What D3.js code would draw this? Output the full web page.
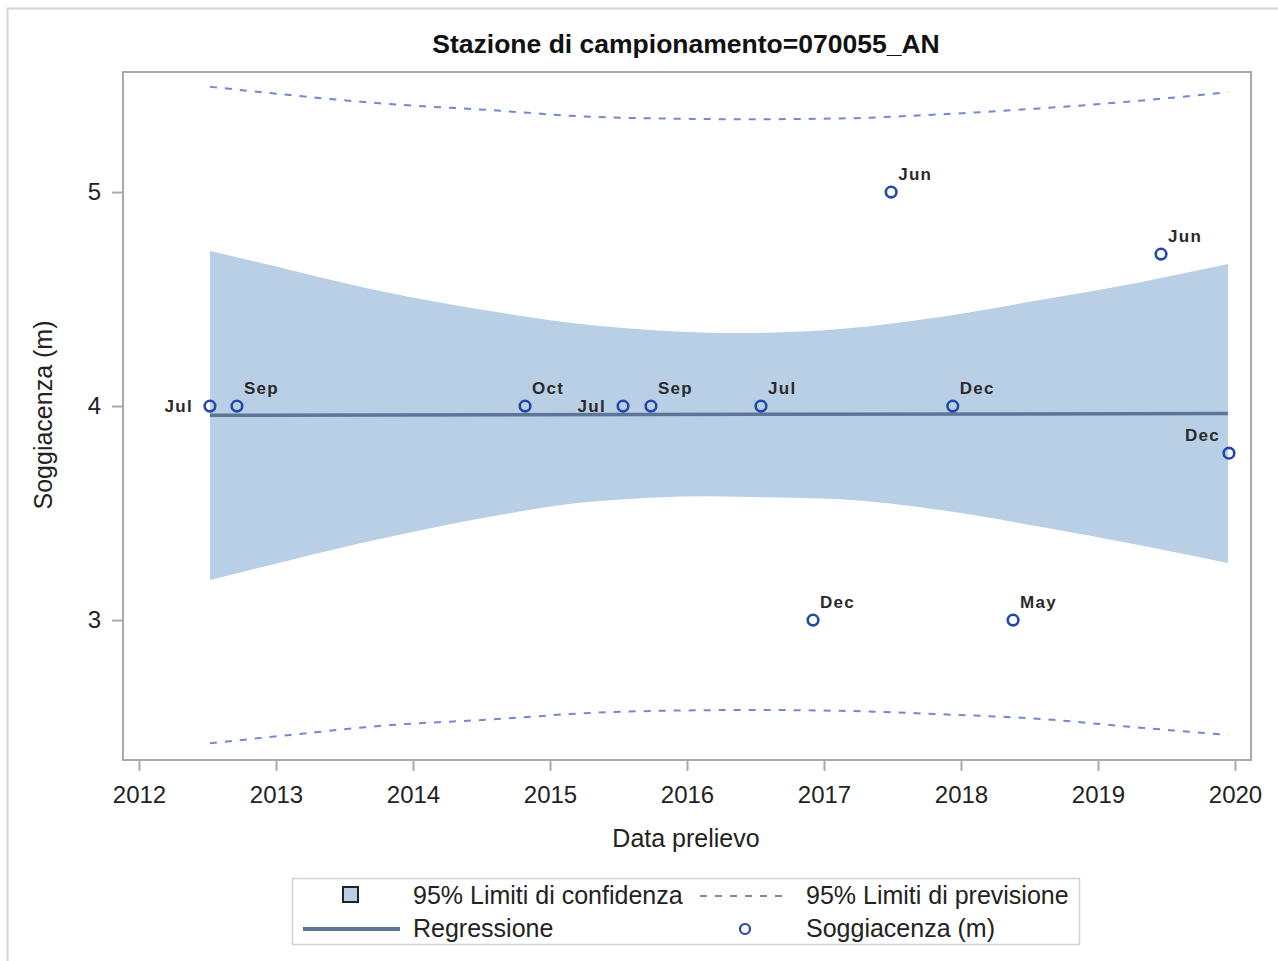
<!DOCTYPE html>
<html>
<head>
<meta charset="utf-8">
<script src="https://cdn.jsdelivr.net/npm/d3@7"></script>
<style>
  html, body { margin: 0; padding: 0; background: #fff; }
  svg text { font-family: "Liberation Sans", Arial, sans-serif; }
</style>
</head>
<body>
<svg id="chart" width="1278" height="961"></svg>
<script>
// Sampling dates (decimal years), depth to water table and month labels
const sampleYears  = [2012.518, 2012.715, 2014.818, 2015.533, 2015.737, 2016.540, 2016.920, 2017.490, 2017.940, 2018.380, 2019.460, 2019.956];
const depthValues  = [4.00, 4.00, 4.00, 4.00, 4.00, 4.00, 3.00, 5.00, 4.00, 3.00, 4.71, 3.78];
const monthLabels  = ["Jul", "Sep", "Oct", "Jul", "Sep", "Jul", "Dec", "Jun", "Dec", "May", "Jun", "Dec"];

// Fitted regression line
const fitYears  = [2012.518, 2019.949];
const fitValues = [3.957, 3.965];

// 95% confidence / prediction limits along the fitted range
const bandYears = [2012.518, 2013.102, 2013.832, 2014.562, 2015.292, 2016.168, 2016.387, 2017.117, 2017.847, 2018.577, 2019.307, 2019.949];
const clmUpper  = [4.726, 4.636, 4.528, 4.444, 4.379, 4.343, 4.341, 4.360, 4.416, 4.495, 4.579, 4.664];
const clmLower  = [3.187, 3.280, 3.389, 3.483, 3.553, 3.579, 3.576, 3.564, 3.514, 3.436, 3.350, 3.266];
const plmUpper  = [5.492, 5.453, 5.411, 5.383, 5.352, 5.341, 5.340, 5.344, 5.363, 5.391, 5.427, 5.467];
const plmLower  = [2.424, 2.463, 2.509, 2.535, 2.566, 2.579, 2.580, 2.576, 2.560, 2.538, 2.497, 2.463];

// Axis ticks
const xTicks = [2012, 2013, 2014, 2015, 2016, 2017, 2018, 2019, 2020];
const yTicks = [3, 4, 5];

const titleText  = "Stazione di campionamento=070055_AN";
const xAxisTitle = "Data prelievo";
const yAxisTitle = "Soggiacenza (m)";
const legendLabels = ["95% Limiti di confidenza", "95% Limiti di previsione", "Regressione", "Soggiacenza (m)"];

// Label placement for points whose label would collide with neighbours
const labelSide = { 0: "left", 3: "left", 11: "upperLeft" };

const COLORS = {
  band: "#b9cfe6",
  fit: "#5f7499",
  points: "#2348a8",
  plm: "#7487cf",
  frame: "#a6aaae",
  text: "#222"
};

const svg = d3.select("#chart");

// Outer frame of the graph
svg.append("rect")
  .attr("x", 7.5).attr("y", 8.5).attr("width", 1290).attr("height", 980)
  .attr("fill", "none").attr("stroke", "#d6d6d6").attr("stroke-width", 2);

const plot = { left: 123, right: 1251, top: 72, bottom: 760 };

const x = d3.scaleLinear().domain([2012, 2020]).range([139, 1235]);
const y = d3.scaleLinear().domain([2.346, 5.561]).range([plot.bottom, plot.top]);

// Confidence band
const band = bandYears.map((yr, i) => ({ yr, lo: clmLower[i], hi: clmUpper[i] }));
svg.append("path")
  .datum(band)
  .attr("fill", COLORS.band)
  .attr("d", d3.area().curve(d3.curveMonotoneX)
    .x(d => x(d.yr)).y0(d => y(d.lo)).y1(d => y(d.hi)));

// Prediction limits
[plmUpper, plmLower].forEach(vals => {
  svg.append("path")
    .datum(bandYears.map((yr, i) => ({ yr, v: vals[i] })))
    .attr("fill", "none")
    .attr("stroke", COLORS.plm)
    .attr("stroke-width", 2)
    .attr("stroke-dasharray", "7,8")
    .attr("d", d3.line().curve(d3.curveMonotoneX).x(d => x(d.yr)).y(d => y(d.v)));
});

// Regression line
svg.append("path")
  .datum(fitYears.map((yr, i) => ({ yr, v: fitValues[i] })))
  .attr("fill", "none")
  .attr("stroke", COLORS.fit)
  .attr("stroke-width", 3.5)
  .attr("d", d3.line().x(d => x(d.yr)).y(d => y(d.v)));

// Observations
const pts = sampleYears.map((yr, i) => ({ yr, v: depthValues[i], lab: monthLabels[i], side: labelSide[i] || "upperRight" }));
svg.append("g").selectAll("circle").data(pts).join("circle")
  .attr("cx", d => x(d.yr)).attr("cy", d => y(d.v)).attr("r", 5.3)
  .attr("fill", "none").attr("stroke", COLORS.points).attr("stroke-width", 2.6);

svg.append("g").selectAll("text").data(pts).join("text")
  .attr("x", d => x(d.yr) + (d.side === "upperRight" ? 7 : d.side === "left" ? -17 : -9))
  .attr("y", d => y(d.v) + (d.side === "left" ? 6 : -12))
  .attr("text-anchor", d => d.side === "upperRight" ? "start" : "end")
  .attr("font-size", 17).attr("font-weight", "bold").attr("letter-spacing", 1.3)
  .attr("fill", "#2a2a2a")
  .text(d => d.lab);

// Plot frame
svg.append("rect")
  .attr("x", plot.left).attr("y", plot.top)
  .attr("width", plot.right - plot.left).attr("height", plot.bottom - plot.top)
  .attr("fill", "none").attr("stroke", COLORS.frame).attr("stroke-width", 2);

// X axis
const xAxis = svg.append("g")
  .attr("transform", `translate(0,${plot.bottom})`)
  .call(d3.axisBottom(x).tickValues(xTicks).tickFormat(d3.format("d")).tickSize(11).tickPadding(15));
xAxis.select(".domain").remove();
xAxis.selectAll("line").attr("stroke", COLORS.frame).attr("stroke-width", 2);
xAxis.selectAll("text").attr("font-size", 24).attr("fill", COLORS.text)
  .attr("font-family", "Liberation Sans, Arial, sans-serif");

// Y axis
const yAxis = svg.append("g")
  .attr("transform", `translate(${plot.left},0)`)
  .call(d3.axisLeft(y).tickValues(yTicks).tickFormat(d3.format("d")).tickSize(11).tickPadding(11));
yAxis.select(".domain").remove();
yAxis.selectAll("line").attr("stroke", COLORS.frame).attr("stroke-width", 2);
yAxis.selectAll("text").attr("font-size", 24).attr("fill", COLORS.text)
  .attr("font-family", "Liberation Sans, Arial, sans-serif");

// Titles
svg.append("text")
  .attr("x", 686).attr("y", 53).attr("text-anchor", "middle")
  .attr("font-size", 26.5).attr("font-weight", "bold").attr("fill", "#111")
  .text(titleText);

svg.append("text")
  .attr("x", 686).attr("y", 847).attr("text-anchor", "middle")
  .attr("font-size", 25).attr("fill", COLORS.text)
  .text(xAxisTitle);

svg.append("text")
  .attr("transform", "translate(52,415) rotate(-90)").attr("text-anchor", "middle")
  .attr("font-size", 25).attr("fill", COLORS.text)
  .text(yAxisTitle);

// Legend
const lg = svg.append("g");
lg.append("rect")
  .attr("x", 292.5).attr("y", 878.5).attr("width", 787).attr("height", 66)
  .attr("fill", "#fff").attr("stroke", "#cfd2d4").attr("stroke-width", 1.5);

lg.append("rect")
  .attr("x", 343).attr("y", 887).attr("width", 15).attr("height", 15)
  .attr("fill", COLORS.band).attr("stroke", "#222").attr("stroke-width", 2);
lg.append("line")
  .attr("x1", 700).attr("x2", 790).attr("y1", 896).attr("y2", 896)
  .attr("stroke", COLORS.plm).attr("stroke-width", 2).attr("stroke-dasharray", "7,8");
lg.append("line")
  .attr("x1", 303).attr("x2", 400).attr("y1", 929).attr("y2", 929)
  .attr("stroke", COLORS.fit).attr("stroke-width", 4);
lg.append("circle")
  .attr("cx", 745).attr("cy", 929).attr("r", 5)
  .attr("fill", "none").attr("stroke", COLORS.points).attr("stroke-width", 2.2);

const legendPos = [[413, 904], [806, 904], [413, 937], [806, 937]];
lg.selectAll("text.leg").data(legendLabels).join("text")
  .attr("class", "leg")
  .attr("x", (d, i) => legendPos[i][0]).attr("y", (d, i) => legendPos[i][1])
  .attr("font-size", 25).attr("fill", COLORS.text)
  .text(d => d);
</script>
</body>
</html>
